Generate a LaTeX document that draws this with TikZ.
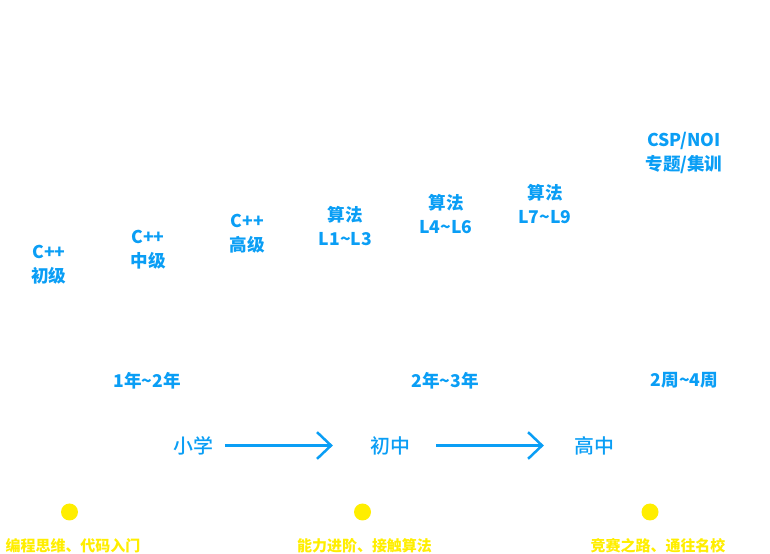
\documentclass[tikz,border=0pt]{standalone}
\usepackage{fontspec}
\setmainfont{Noto Sans CJK SC}
\newfontfamily\cjkmedium{Noto Sans CJK SC Medium}
\usetikzlibrary{arrows.meta}

\definecolor{skyblue}{HTML}{0A9EF5}
\definecolor{dotyellow}{HTML}{FFEE00}

\tikzset{
    level/.style={text=skyblue, font=\fontsize{15}{20.5}\selectfont\bfseries, align=center, inner sep=0pt},
    period/.style={text=skyblue, font=\fontsize{15}{18}\selectfont\bfseries, inner sep=0pt},
    stage/.style={text=skyblue, font=\fontsize{17}{20}\selectfont\cjkmedium, inner sep=0pt},
    goal/.style={text=dotyellow, font=\fontsize{12.8}{15}\selectfont\bfseries, inner sep=0pt},
    dot/.style={circle, fill=dotyellow, inner sep=0pt, minimum size=5.1mm},
    flow/.style={skyblue, line width=0.95mm, -{Straight Barb[length=4.2mm, width=8mm, line width=0.75mm]}}
}

\begin{document}
\begin{tikzpicture}[x=0.3mm, y=-0.3mm]
    \useasboundingbox (0,0) rectangle (770,554);

    % Courses
    \node[level] (c1) at (49, 264.5) {C++\\初级};
    \node[level] (c2) at (148, 249.5) {C++\\中级};
    \node[level] (c3) at (247.5, 233.5) {C++\\高级};
    \node[level] (a1) at (345.5, 226) {算法\\L1\textasciitilde L3};
    \node[level] (a2) at (446, 214) {算法\\L4\textasciitilde L6};
    \node[level] (a3) at (545, 204) {算法\\L7\textasciitilde L9};
    \node[level] (csp) at (684, 152.5) {CSP/NOI\\专题/集训};

    % Periods
    \node[period] (p1) at (147, 380.5) {1年\textasciitilde 2年};
    \node[period] (p2) at (445, 380.5) {2年\textasciitilde 3年};
    \node[period] (p3) at (684.5, 380.5) {2周\textasciitilde 4周};

    % Stages
    \node[stage] (s1) at (193, 445.5) {小学};
    \node[stage] (s2) at (390.5, 445.5) {初中};
    \node[stage] (s3) at (594.5, 445.5) {高中};
    \draw[flow, shorten <=10, shorten >=32] (s1.east) -- (s2.west);
    \draw[flow, shorten <=22, shorten >=26] (s2.east) -- (s3.west);

    % Goals
    \node[dot] (d1) at (69.5, 512) {};
    \node[dot] (d2) at (362.5, 512) {};
    \node[dot] (d3) at (650, 512) {};
    \node[goal] (g1) at (73, 545.5) {编程思维、代码入门};
    \node[goal] (g2) at (364.5, 545.5) {能力进阶、接触算法};
    \node[goal] (g3) at (658, 545.5) {竞赛之路、通往名校};
\end{tikzpicture}
\end{document}
